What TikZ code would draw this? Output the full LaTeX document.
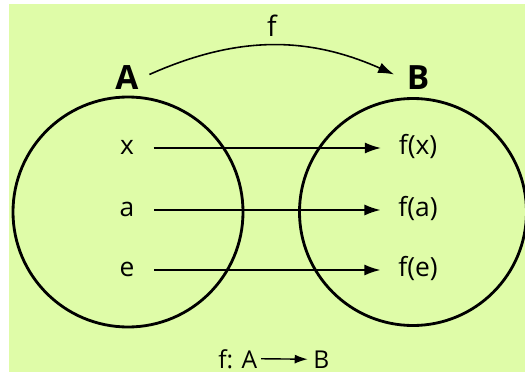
\documentclass[tikz,border=0pt]{standalone}
\usepackage{fontspec}
\setmainfont{Open Sans}
\usetikzlibrary{arrows.meta}
\definecolor{bgreen}{RGB}{223,252,168}
\tikzset{
    elem/.style={font=\fontsize{15}{17}\selectfont, text height=1.6ex, text depth=0.3ex, inner sep=0pt},
    setname/.style={font=\fontsize{19}{21}\selectfont\bfseries, inner sep=0pt},
    maparrow/.style={-{Latex[length=3.2mm,width=2.2mm]}, line width=0.9pt},
}
\begin{document}
\begin{tikzpicture}
    % background
    \fill[white] (0,0) rectangle (10.5,7.44);
    \fill[bgreen] (0.18,0) rectangle (10.5,7.36);
    \useasboundingbox (0,0) rectangle (10.5,7.44);

    % the two sets
    \draw[line width=1.6pt] (2.56,3.20) circle (2.30);
    \draw[line width=1.6pt] (8.26,3.20) circle (2.27);
    \node[setname] (A) at (2.54,5.88) {A};
    \node[setname] (B) at (8.36,5.88) {B};
    \draw[maparrow] ([xshift=6pt,yshift=2pt]A.east) to[bend left=24]
        node[above=1pt, font=\fontsize{16}{18}\selectfont] (f) {f} ([xshift=-7pt,yshift=2pt]B.west);

    % elements and images
    \node[elem] (x) at (2.54,4.48) {x};
    \node[elem] (a) at (2.54,3.24) {a};
    \node[elem] (e) at (2.54,2.04) {e};
    \node[elem] (fx) at (8.36,4.48) {f(x)};
    \node[elem] (fa) at (8.36,3.24) {f(a)};
    \node[elem] (fe) at (8.36,2.04) {f(e)};
    \foreach \u/\v in {x/fx, a/fa, e/fe}
        \draw[maparrow] ([xshift=11pt]\u.east) -- ([xshift=-10pt]\v.west);

    % notation
    \node[font=\fontsize{14}{16}\selectfont, inner sep=0pt, anchor=base west] (fA) at (4.36,0.08) {f: A};
    \node[font=\fontsize{14}{16}\selectfont, inner sep=0pt, anchor=base west] (fB) at (6.26,0.08) {B};
    \draw[-{Latex[length=2.6mm,width=1.8mm]}, line width=0.8pt] ([xshift=2pt]fA.east) -- ([xshift=-3pt]fB.west);
\end{tikzpicture}
\end{document}
